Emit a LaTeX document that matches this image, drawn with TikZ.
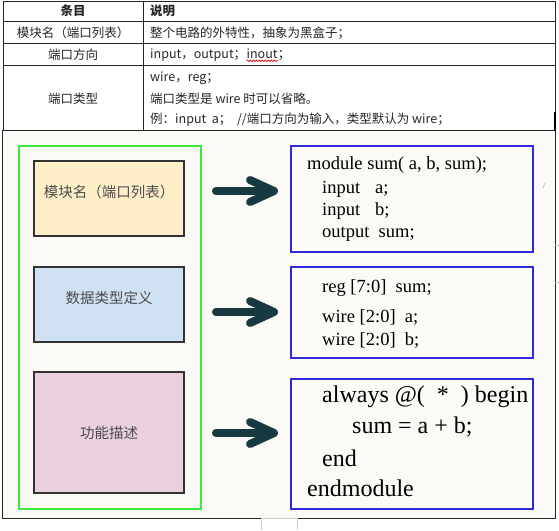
\documentclass[tikz,border=0pt]{standalone}
\usepackage{fontspec}
\setmainfont{Liberation Serif}
\newfontfamily\cjk{Noto Sans CJK SC}
\usetikzlibrary{arrows.meta,decorations.pathmorphing}
\definecolor{paper}{HTML}{FCFAF6}
\definecolor{modyel}{HTML}{FFEFC9}
\definecolor{typblue}{HTML}{CFE1F3}
\definecolor{funpink}{HTML}{E8D0DC}
\definecolor{arrowteal}{HTML}{173A40}
\definecolor{codeblue}{HTML}{2B2BD8}
\definecolor{boxgreen}{HTML}{3CE83C}
\begin{document}
\begin{tikzpicture}[x=1pt,y=-1pt,
    tabline/.style={black!85,line width=.8pt},
    cell/.style={inner sep=0pt,text=black!85,font=\cjk\fontsize{12.5}{15}\selectfont},
    part/.style={draw=black!80,line width=1.3pt,minimum width=150pt},
    partlabel/.style={inner sep=0pt,text=black!70,font=\cjk\fontsize{14.5}{17}\selectfont},
    codebox/.style={draw=codeblue,line width=1.3pt,fill=paper,minimum width=242pt},
    code/.style={anchor=west,inner sep=0pt,font=\fontsize{18.5}{22}\selectfont},
    bigcode/.style={anchor=west,inner sep=0pt,font=\fontsize{24}{30}\selectfont},
    fatarrow/.style={arrowteal,line width=8pt,line cap=round,-{Straight Barb[length=24pt,width=22pt,line cap=round,line join=round]}}]
    \useasboundingbox (0,0) rectangle (559,530);
    % picture frame background
    \fill[paper] (2,130) rectangle (555,518);
    % table
    \draw[tabline] (3,1.5) rectangle (555,130);
    \draw[tabline] (143,1.5) -- (143,130);
    \draw[tabline] (3,21) -- (555,21);
    \draw[tabline] (3,43) -- (555,43);
    \draw[tabline] (3,65) -- (555,65);
    \draw[black,line width=2pt] (555,112) -- (555,131);
    \node[cell,font=\cjk\bfseries\fontsize{12.5}{15}\selectfont] (h1) at (73,11) {条目};
    \node[cell,anchor=west,font=\cjk\bfseries\fontsize{12.5}{15}\selectfont] (h2) at (150,11) {说明};
    \node[cell] (r1) at (73,33) {模块名（端口列表）};
    \node[cell,anchor=west] (d1) at (150,33) {整个电路的外特性，抽象为黑盒子；};
    \node[cell] (r2) at (73,55) {端口方向};
    \node[cell,anchor=west] (d2) at (150,55) {input，output；};
    \node[cell,anchor=base west] (io) at (d2.base east) {inout};
    \node[cell,anchor=base west] (iosemi) at (io.base east) {；};
    \draw[red!85!black,line width=.6pt,decorate,decoration={snake,amplitude=.8pt,segment length=3pt}] ([yshift=-2pt]io.south west) -- ([yshift=-2pt]io.south east);
    \node[cell] (r3) at (73,99) {端口类型};
    \node[cell,anchor=west] (d3a) at (150,78) {wire，reg；};
    \node[cell,anchor=west] (d3b) at (150,99) {端口类型是 wire 时可以省略。};
    \node[cell,anchor=west] (d3c) at (150,120) {例：input\ \ a；\ \ //端口方向为输入，类型默认为 wire；};
    % picture frame
    \draw[black!85,line width=.8pt] (2,130) -- (2,518) -- (555,518) -- (555,130);
    \node[draw=boxgreen,line width=1.5pt,minimum width=182pt,minimum height=363pt] (grp) at (110,327.5) {};
    \node[part,fill=modyel,minimum height=75pt] (mod) at (109,198.5) {};
    \node[part,fill=typblue,minimum height=75pt] (typ) at (109,304.5) {};
    \node[part,fill=funpink,minimum height=121pt] (fun) at (109,432.5) {};
    \node[partlabel] (modtxt) at ([yshift=7pt]mod.center) {模块名（端口列表）};
    \node[partlabel] (typtxt) at ([yshift=7pt]typ.center) {数据类型定义};
    \node[partlabel] (funtxt) at (fun.center) {功能描述};
    % code boxes
    \node[codebox,minimum height=106pt] (code1) at (412,199) {};
    \node[codebox,minimum height=91pt] (code2) at (412,312.5) {};
    \node[codebox,minimum height=130pt] (code3) at (412,444) {};
    \node[code] (c11) at (307,165) {module sum( a, b, sum);};
    \node[code] (c12) at (322,189) {input\hspace{15pt}a;};
    \node[code] (c13) at (322,211) {input\hspace{15pt}b;};
    \node[code] (c14) at (322,234) {output\ \ sum;};
    \node[code] (c21) at (322,288) {reg [7:0]\ \ sum;};
    \node[code] (c22) at (322,317) {wire [2:0]\ \ a;};
    \node[code] (c23) at (322,340) {wire [2:0]\ \ b;};
    \node[bigcode] (c31) at (322,397) {always @(\ \ *\ \ ) begin};
    \node[bigcode] (c32) at (352,427) {sum = a + b;};
    \node[bigcode] (c33) at (322,458) {end};
    \node[bigcode] (c34) at (307,488) {endmodule};
    % arrows
    \coordinate (a1s) at (216,191);
    \coordinate (a1e) at (278,191);
    \coordinate (a2s) at (216,312);
    \coordinate (a2e) at (278,312);
    \coordinate (a3s) at (216,433);
    \coordinate (a3e) at (278,433);
    \draw[fatarrow] (a1s) -- (a1e);
    \draw[fatarrow] (a2s) -- (a2e);
    \draw[fatarrow] (a3s) -- (a3e);
    % marks outside the frame
    \draw[black!25,line width=.6pt] (555,245) -- (559,245);
    \draw[black!25,line width=.6pt] (555,282) -- (559,282);
    \draw[black!20,line width=.6pt] (261,530) -- (261,518) -- (297,518) -- (297,530);
    \draw[black!20,line width=1pt] (545,183) -- (543,188);
\end{tikzpicture}
\end{document}
